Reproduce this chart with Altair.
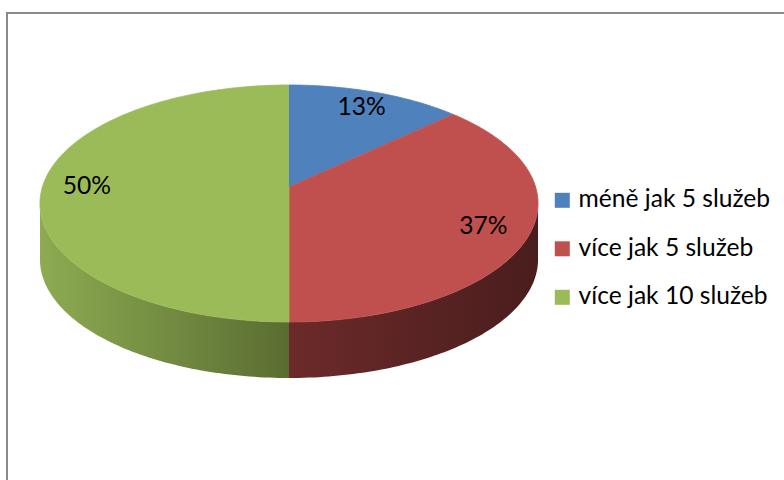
import math
import pandas as pd
import altair as alt

# ---- data -------------------------------------------------------------
categories = ["méně jak 5 služeb", "více jak 5 služeb", "více jak 10 služeb"]
values = [13, 37, 50]
labels = ["13%", "37%", "50%"]

# ---- styles / layout ----------------------------------------------------
colors = ["#4F81BD", "#C0504D", "#9BBB59"]
side_gradients = [
    ("#3E6796", "#2C4A6E"),
    ("#6C2A2A", "#4A1D1D"),
    ("#8DAB52", "#5A6D31"),
]
W, H = 784, 480
CX, CY = 289.0, 187.0      # projected centre of the pie's top face
A, B = 246.6, 116.2        # projected radii
K = 0.1392                 # perspective factor
DEPTH = 56.0               # thickness of the pie
LABEL_R = 0.82
FONT = "Lato"
FONT_SIZE = 24.6


def proj(theta_deg, r=1.0):
    t = math.radians(theta_deg)
    u, v = r * math.sin(t), r * math.cos(t)
    d = 1.0 + K * v
    return CX + A * u / d, CY - B * v / d


total = float(sum(values))
starts, ends = [], []
acc = 0.0
for val in values:
    starts.append(acc / total * 360.0)
    acc += val
    ends.append(acc / total * 360.0)


def arc(t1, t2):
    n = max(2, int(math.ceil((t2 - t1) / 1.0)) + 1)
    return [t1 + (t2 - t1) * i / (n - 1) for i in range(n)]


# top faces
top_rows = []
for cat, t1, t2 in zip(categories, starts, ends):
    o = 0
    top_rows.append({"cat": cat, "x": CX, "y": CY, "o": o})
    for t in arc(t1, t2):
        o += 1
        x, y = proj(t)
        top_rows.append({"cat": cat, "x": x, "y": y, "o": o})
top_df = pd.DataFrame(top_rows)

# visible side walls (front half, between the silhouette angles)
sil = math.degrees(math.asin(K))
vis_lo, vis_hi = 90.0 + sil, 270.0 - sil
side_layers = []
x_scale = alt.Scale(domain=[0, W], nice=False, zero=False)
y_scale = alt.Scale(domain=[0, H], nice=False, zero=False, reverse=True)

for i, (cat, t1, t2) in enumerate(zip(categories, starts, ends)):
    lo, hi = max(t1, vis_lo), min(t2, vis_hi)
    if hi <= lo:
        continue
    rows = []
    o = 0
    ts = arc(lo, hi)
    for t in ts:
        x, y = proj(t)
        rows.append({"cat": cat, "x": x, "y": y, "o": o})
        o += 1
    for t in reversed(ts):
        x, y = proj(t)
        rows.append({"cat": cat, "x": x, "y": y + DEPTH, "o": o})
        o += 1
    c_left, c_right = side_gradients[i]
    grad = alt.Gradient(
        gradient="linear",
        stops=[alt.GradientStop(color=c_left, offset=0),
               alt.GradientStop(color=c_right, offset=1)],
        x1=0, x2=1, y1=0, y2=0,
    )
    layer = alt.Chart(pd.DataFrame(rows)).mark_line(
        filled=True, fill=grad, strokeWidth=0, interpolate="linear"
    ).encode(
        x=alt.X("x:Q", scale=x_scale, axis=None),
        y=alt.Y("y:Q", scale=y_scale, axis=None),
        order="o:Q",
    )
    side_layers.append(layer)

color_scale = alt.Scale(domain=categories, range=colors)

top = alt.Chart(top_df).mark_line(filled=True, strokeWidth=0.8, interpolate="linear").encode(
    x=alt.X("x:Q", scale=x_scale, axis=None),
    y=alt.Y("y:Q", scale=y_scale, axis=None),
    order="o:Q",
    color=alt.Color(
        "cat:N",
        scale=color_scale,
        legend=alt.Legend(
            title=None, orient="none", legendX=550, legendY=188,
            symbolType="square", symbolSize=225, symbolStrokeWidth=0,
            symbolOpacity=1, labelFont=FONT, labelFontSize=FONT_SIZE,
            labelColor="black", rowPadding=23.5, labelOffset=4, padding=0,
            labelLimit=0,
        ),
    ),
    stroke=alt.Stroke("cat:N", scale=color_scale, legend=None),
)

# data labels at the slice mid-angles
lab_rows = []
for lab, t1, t2 in zip(labels, starts, ends):
    x, y = proj((t1 + t2) / 2.0, LABEL_R)
    lab_rows.append({"label": lab, "x": x, "y": y})
texts = alt.Chart(pd.DataFrame(lab_rows)).mark_text(
    font=FONT, fontSize=FONT_SIZE, color="black", align="center", baseline="middle"
).encode(
    x=alt.X("x:Q", scale=x_scale, axis=None),
    y=alt.Y("y:Q", scale=y_scale, axis=None),
    text="label:N",
)

# chart-area frame (left and top edges visible in the reference)
frame_left = alt.Chart(pd.DataFrame({"a": [0]})).mark_rule(
    color="#8A8A8A", strokeWidth=2
).encode(x=alt.value(7), y=alt.value(12), y2=alt.value(H))
frame_top = alt.Chart(pd.DataFrame({"a": [0]})).mark_rule(
    color="#8A8A8A", strokeWidth=2
).encode(x=alt.value(7), x2=alt.value(W), y=alt.value(13))

chart = alt.layer(
    *side_layers, top, texts, frame_left, frame_top
).properties(
    width=W, height=H, padding=0, autosize=alt.AutoSizeParams(type="none"),
    background="white",
).configure_view(strokeWidth=0)

chart.save("out.html", embed_options={"renderer": "svg", "actions": False})
